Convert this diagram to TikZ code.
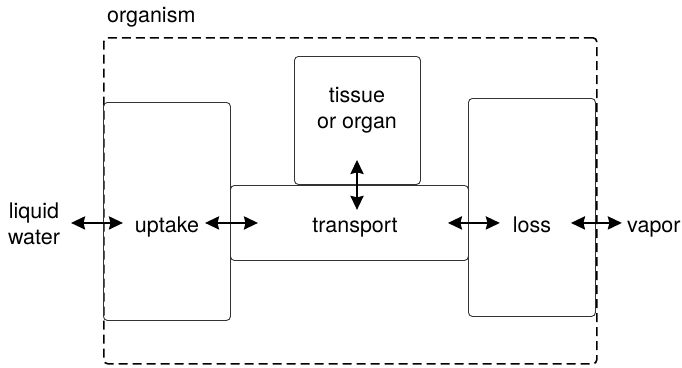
\documentclass[tikz,border=0pt]{standalone}
\usepackage{fontspec}
\setmainfont{TeX Gyre Heros}
\usetikzlibrary{arrows.meta}
\tikzset{
  box/.style={draw=black!80, line width=0.9pt, rounded corners=4pt, anchor=north west, inner sep=0pt},
  lbl/.style={font=\fontsize{21.5}{25.5}\selectfont, inner sep=0pt, align=center},
  flow/.style={{Stealth[length=14pt,width=13pt,inset=1.5pt]}-{Stealth[length=14pt,width=13pt,inset=1.5pt]}, line width=2.4pt}
}
\begin{document}
\begin{tikzpicture}[x=1pt,y=-1pt]
\useasboundingbox (0,0) rectangle (682,367);
% organism boundary
\node[draw, dashed, dash pattern=on 9pt off 5pt, line width=1.6pt, rounded corners=4pt, anchor=north west, inner sep=0pt, minimum width=493pt, minimum height=326pt] (organism) at (103,37) {};
\node[lbl, anchor=base west] (organismlbl) at (107,22) {organism};
% compartments
\node[box, minimum width=127pt, minimum height=218pt] (uptakebox) at (103,102) {};
\node[box, minimum width=126pt, minimum height=128pt] (tissuebox) at (294,56) {};
\node[box, minimum width=238pt, minimum height=75pt] (transportbox) at (230,185) {};
\node[box, minimum width=127pt, minimum height=218pt] (lossbox) at (468,98) {};
% labels
\node[lbl] (water) at (34,224) {liquid\\water};
\node[lbl, anchor=base] (uptake) at (167,232) {uptake};
\node[lbl] (tissue) at (357,110) {tissue\\or organ};
\node[lbl, anchor=base] (transport) at (355,232) {transport};
\node[lbl, anchor=base] (loss) at (532,232) {loss};
\node[lbl, anchor=base west] (vapor) at (627,232) {vapor};
% fluxes
\draw[flow] ([xshift=-32pt]uptakebox.west |- transportbox.center) -- ([xshift=20pt]uptakebox.west |- transportbox.center);
\draw[flow] ([xshift=-25pt]transportbox.west) -- ([xshift=28pt]transportbox.west);
\draw[flow] ([yshift=-25pt]tissuebox.south -| tissue) -- ([yshift=25pt]tissuebox.south -| tissue);
\draw[flow] ([xshift=-21pt]transportbox.east) -- ([xshift=31pt]transportbox.east);
\draw[flow] ([xshift=-25pt]lossbox.east |- transportbox.center) -- ([xshift=26pt]lossbox.east |- transportbox.center);
\end{tikzpicture}
\end{document}
